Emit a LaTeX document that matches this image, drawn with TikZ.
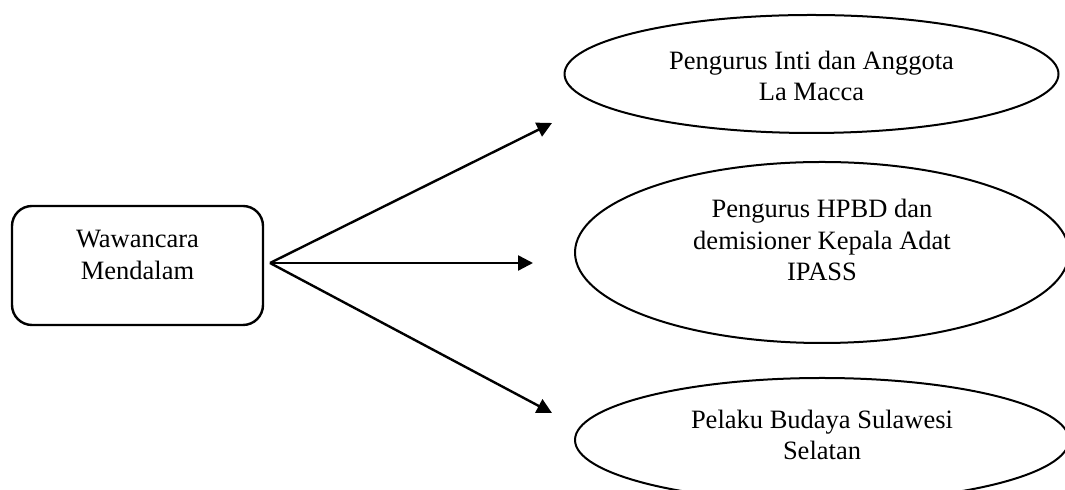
\documentclass[tikz,border=0pt]{standalone}
\usepackage{fontspec}
\setmainfont{Liberation Serif}
\usetikzlibrary{shapes.geometric}
\usetikzlibrary{arrows.meta}

\begin{document}
\begin{tikzpicture}[x=0.5pt,y=-0.5pt,
		kotak/.style={draw,line width=1.2pt,rounded corners=10pt,inner sep=0pt},
		oval/.style={draw,ellipse,line width=1pt,inner sep=0pt},
		teks/.style={align=center,font=\fontsize{13.25}{15.6}\selectfont,inner sep=0pt},
		panah/.style={-{Triangle[length=7.5pt,width=7.5pt]},line width=1.2pt}]
		\useasboundingbox (0,0) rectangle (1065,490);
		\clip (0,0) rectangle (1065,490);
		\node[kotak,minimum width=125.5pt,minimum height=59.5pt] (wawancara) at (137.5,265.5) {};
		\node[teks] (wawancaraT) at (137.5,255) {Wawancara\\Mendalam};
		\node[oval,minimum width=247pt,minimum height=59pt] (inti) at (811.5,74) {};
		\node[teks] (intiT) at (811.5,76) {Pengurus Inti dan Anggota\\La Macca};
		\node[oval,minimum width=247pt,minimum height=90.5pt] (hpbd) at (822,252.5) {};
		\node[teks] (hpbdT) at (822,240) {Pengurus HPBD dan\\demisioner Kepala Adat\\IPASS};
		\node[oval,minimum width=247pt,minimum height=62pt] (pelaku) at (822,440) {};
		\node[teks] (pelakuT) at (822,435) {Pelaku Budaya Sulawesi\\Selatan};
		\coordinate (asal) at (270,263);
		\coordinate (ke1) at (552,123);
		\coordinate (ke2) at (533,263);
		\coordinate (ke3) at (552,413);
		\draw[panah] (asal) -- (ke1);
		\draw[panah] (asal) -- (ke2);
		\draw[panah] (asal) -- (ke3);
\end{tikzpicture}
\end{document}
